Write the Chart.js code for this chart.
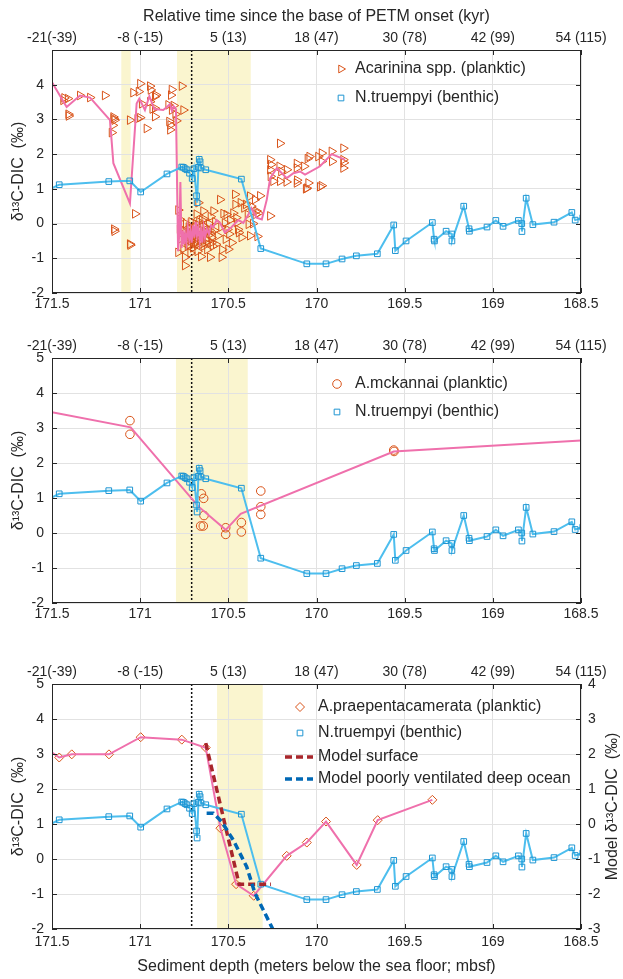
<!DOCTYPE html>
<html><head><meta charset="utf-8">
<script src="https://cdn.jsdelivr.net/npm/chart.js@4.4.0/dist/chart.umd.min.js"></script>
<style>
html,body{margin:0;padding:0;background:#fff;width:623px;height:979px;overflow:hidden;}
.p{position:absolute;left:0;width:623px;}
</style></head><body>
<div class="p" style="top:0;height:318px"><canvas id="c1"></canvas></div>
<div class="p" style="top:318px;height:312px"><canvas id="c2"></canvas></div>
<div class="p" style="top:630px;height:349px"><canvas id="c3"></canvas></div>
<script>
// ---------- axis ticks ----------
const depthTicks = [171.5, 171, 170.5, 170, 169.5, 169, 168.5];
const depthTickLabels = ['171.5','171','170.5','170','169.5','169','168.5'];
const timeTickLabels = ['-21(-39)','-8 (-15)','5 (13)','18 (47)','30 (78)','42 (99)','54 (115)'];

// ---------- N.truempyi (benthic), all panels ----------
const bDepth = [171.55,171.459,171.178,171.059,170.997,170.848,170.764,170.755,170.745,170.735,170.72,170.705,170.695,170.68,170.677,170.67,170.665,170.66,170.655,170.628,170.426,170.316,170.055,169.946,169.855,169.774,169.655,169.562,169.553,169.492,169.343,169.333,169.331,169.265,169.233,169.232,169.165,169.135,169.133,169.033,168.983,168.942,168.855,168.836,168.835,168.811,168.773,168.653,168.552,168.533,168.49];
const bVal   = [0.9,1.12,1.21,1.23,0.91,1.43,1.63,1.62,1.58,1.55,1.45,1.3,1.58,0.8,0.6,1.62,1.85,1.78,1.6,1.55,1.28,-0.72,-1.16,-1.16,-1.02,-0.93,-0.87,-0.04,-0.78,-0.5,0.03,-0.45,-0.5,-0.22,-0.3,-0.5,0.5,-0.15,-0.22,-0.1,0.09,-0.08,0.09,0.0,-0.23,0.73,-0.03,0.04,0.32,0.1,0.17];

// ---------- Panel 1: Acarinina spp. ----------
const acDepth = [171.436,171.43,171.407,171.405,171.41,171.341,171.284,171.2,171.161,171.152,171.145,171.155,171.15,171.148,171.146,171.058,171.058,171.056,171.029,171.039,171.0,171.008,171.0,171.015,170.99,170.963,170.944,170.94,170.944,170.916,170.916,170.916,170.91,170.93,170.84,170.835,170.821,170.764,170.83,170.828,170.825,170.82,170.755,170.81,170.8,170.795,
 170.784,170.774,170.775,170.772,170.784,170.755,170.746,170.746,170.735,170.73,170.725,170.72,170.715,170.71,170.705,170.7,170.695,170.69,170.685,170.68,170.68,170.675,170.67,170.665,170.66,170.655,170.65,170.645,170.642,170.64,170.635,170.63,170.625,170.62,170.61,170.604,170.6,170.595,170.585,170.58,170.575,170.57,170.56,170.547,170.54,170.538,170.535,170.528,170.52,170.515,170.51,170.505,170.5,170.495,170.49,170.48,170.472,170.462,170.46,170.455,170.45,170.445,170.44,170.43,170.425,170.41,170.4,170.39,170.385,170.377,170.377,170.37,170.36,170.349,170.345,170.34,170.335,170.33,170.32,170.263,
 170.75,170.745,170.74,170.73,170.725,170.72,170.712,170.705,170.698,170.69,170.685,170.678,170.672,170.665,170.658,170.65,170.645,170.638,170.63,170.622,170.615,170.605,170.595,170.588,170.6,
 170.263,170.258,170.263,170.26,170.245,170.207,170.21,170.207,170.2,170.168,170.17,170.112,170.112,170.112,170.11,170.07,170.055,170.04,170.046,170.05,170.06,169.99,169.98,169.97,169.97,169.97,169.914,169.912,169.848,169.848,169.848,169.845];
const acVal = [3.55,3.62,3.15,3.1,3.6,3.69,3.63,3.69,2.62,3.07,2.98,2.83,3.02,-0.16,-0.22,2.98,-0.59,-0.62,0.28,3.77,4.03,3.8,3.05,3.02,3.45,2.74,3.96,3.85,3.51,3.66,3.32,3.08,3.7,3.3,3.42,2.94,3.86,3.96,2.7,2.84,3.7,3.27,3.27,3.4,3.15,2.96,
 0.39,0.12,-0.16,-0.45,-0.83,-0.73,-0.97,-1.21,-0.5,-0.3,-0.1,-0.6,-0.85,0.05,-0.4,-0.7,-0.2,-0.55,0.0,0.27,-0.35,-0.8,0.6,-0.15,-0.5,-0.95,0.1,-0.3,0.36,-0.65,0.12,-0.1,-0.45,-0.75,0.0,-0.97,-0.3,-0.55,0.36,-0.2,0.05,-0.6,-0.35,0.69,-0.1,-0.97,-0.75,0.29,0.02,-0.45,0.26,-0.17,-0.74,-0.3,0.1,-0.55,0.3,0.84,0.55,0.17,0.03,-0.17,-0.26,0.6,-0.4,0.45,0.55,0.26,-0.02,0.79,-0.35,0.5,0.0,0.69,0.26,0.36,-0.37,0.3,0.8,0.22,
 -0.2,-0.45,0.0,-0.65,-0.35,-0.15,-0.5,-0.25,-0.6,-0.1,-0.45,-0.6,-0.3,0.05,-0.35,-0.6,-0.05,-0.3,-0.55,-0.25,-0.5,-0.2,-0.4,-0.65,0.2,
 1.84,1.7,1.55,1.36,1.22,2.31,1.65,1.22,1.5,1.55,1.2,1.73,1.6,1.17,1.25,1.65,1.02,1.93,1.17,1.87,1.0,1.93,1.06,2.03,1.79,1.09,2.08,1.79,2.17,1.84,1.6,1.75];
const acLineDepth = [171.5,171.417,171.341,171.284,171.171,171.152,171.058,171.02,171.005,170.973,170.948,170.92,170.869,170.85,170.831,170.82,170.81,170.797,170.785,170.778,170.772,170.765,170.758,170.752,170.745,170.738,170.73,170.722,170.715,170.708,170.7,170.692,170.685,170.678,170.67,170.662,170.655,170.648,170.64,170.632,170.622,170.61,170.598,170.585,170.567,170.547,170.52,170.481,170.443,170.415,170.386,170.37,170.34,170.31,170.282,170.263,170.225,170.169,170.131,170.093,170.065,169.98,169.914,169.838];
const acLineVal = [4.07,3.36,3.69,3.63,2.98,1.74,0.58,3.46,3.6,3.27,3.67,3.3,3.27,3.35,3.44,3.25,3.38,3.3,-0.8,-0.3,1.2,-0.7,-0.2,-0.6,-0.3,-0.55,-0.1,-0.45,-0.2,-0.55,-0.05,-0.4,0.05,-0.35,-0.1,-0.5,-0.2,-0.55,-0.1,-0.4,-0.15,-0.3,-0.05,-0.11,0.1,0.02,-0.26,-0.1,0.1,0.02,0.26,0.45,0.17,0.12,0.69,1.3,1.6,1.31,1.45,1.5,1.41,1.65,2.0,1.84];

// ---------- Panel 2: A.mckannai ----------
const mcDepth = [171.058,171.058,170.653,170.64,170.638,170.657,170.642,170.515,170.515,170.426,170.426,170.316,170.316,170.316,169.562,169.56];
const mcVal   = [3.21,2.82,1.12,0.99,0.5,0.2,0.2,0.15,-0.04,0.3,0.03,1.2,0.75,0.53,2.37,2.33];
const mcLineDepth = [171.5,171.054,170.67,170.515,170.43,169.562,168.5];
const mcLineVal   = [3.45,3.02,0.76,0.09,0.55,2.33,2.64];

// ---------- Panel 3: A.praepentacamerata & model ----------
const apDepth = [171.459,171.388,171.177,170.997,170.764,170.628,170.545,170.456,170.356,170.169,170.055,169.946,169.772,169.653,169.343];
const apVal   = [2.9,2.99,2.99,3.48,3.41,3.18,0.88,-0.72,-1.05,0.09,0.47,1.07,-0.17,1.11,1.69];
const apLineDepth = [171.5].concat(apDepth);
const apLineVal   = [3.04].concat(apVal);
const surfDepth = [170.628,170.439,170.258];
const surfVal   = [2.31,-1.72,-1.72];
const deepDepth = [170.623,170.585,170.538,170.472,170.396,170.349,170.245];
const deepVal   = [0.31,0.31,0.07,-0.46,-1.22,-1.98,-3.03];

// ---------- shaded intervals & onset ----------
const bands1 = [[171.107,171.054],[170.791,170.373]];
const bands2 = [[170.797,170.39]];
const bands3 = [[170.564,170.305]];
const onsetDepth = 170.708;

// =====================================================
const FONT = "'Liberation Sans', Arial, Helvetica, sans-serif";
const C = {bLine:'#4DBEEE', bMark:'#1F95D2', pink:'#EF70AC', orange:'#D95319', grid:'#e2e2e2',
           axis:'#262626', band:'#FAF5CF', surf:'#A8262B', deep:'#0068B5'};
function pts(xs, ys){ return xs.map((x,i)=>({x:x, y:ys[i]})); }
function labelFor(v, vals, labs){ for(let i=0;i<vals.length;i++){ if(Math.abs(v-vals[i])<1e-6) return labs[i]; } return ''; }

function benthic(){
  return {data:pts(bDepth,bVal), showLine:true, borderColor:C.bLine, borderWidth:2,
    pointStyle:'rect', pointRadius:4, pointBorderColor:C.bMark, pointBackgroundColor:'rgba(0,0,0,0)',
    pointBorderWidth:1, order:0};
}
function pinkLine(xs, ys){
  return {data:pts(xs,ys), showLine:true, borderColor:C.pink, borderWidth:2, pointRadius:0, order:1};
}
function markers(xs, ys, style, r, rot){
  return {data:pts(xs,ys), showLine:false, pointStyle:style, pointRadius:r, pointRotation:rot||0,
    pointBorderColor:C.orange, pointBackgroundColor:'rgba(0,0,0,0)', pointBorderWidth:1, order:2};
}

const panelPlugin = {
  id:'panelDeco',
  beforeDraw(chart){
    const o = chart.options.plugins.panelDeco; const a = chart.chartArea; const ctx = chart.ctx;
    const xs = chart.scales.x;
    ctx.save();
    ctx.fillStyle = C.band;
    o.bands.forEach(b=>{
      const x1 = xs.getPixelForValue(b[0]), x2 = xs.getPixelForValue(b[1]);
      ctx.fillRect(Math.min(x1,x2), a.top, Math.abs(x2-x1), a.bottom-a.top);
    });
    ctx.restore();
  },
  beforeDatasetsDraw(chart){
    const o = chart.options.plugins.panelDeco; const a = chart.chartArea; const ctx = chart.ctx;
    const px = chart.scales.x.getPixelForValue(o.onset);
    ctx.save();
    ctx.strokeStyle = '#111'; ctx.lineWidth = 1.5; ctx.setLineDash([2,2]);
    ctx.beginPath(); ctx.moveTo(px, a.top); ctx.lineTo(px, a.bottom); ctx.stroke();
    ctx.restore();
  },
  afterDraw(chart){
    const o = chart.options.plugins.panelDeco; const a = chart.chartArea; const ctx = chart.ctx;
    ctx.save();
    ctx.strokeStyle = C.axis; ctx.lineWidth = 1;
    ctx.strokeRect(a.left+0.5, a.top+0.5, a.right-a.left-1, a.bottom-a.top-1);
    const ys = chart.scales.y, xs = chart.scales.x;
    ctx.beginPath();
    for(let v=-2; v<=5; v++){
      const py = Math.round(ys.getPixelForValue(v))+0.5;
      ctx.moveTo(a.left, py); ctx.lineTo(a.left+5, py);
      ctx.moveTo(a.right-5, py); ctx.lineTo(a.right, py);
    }
    depthTicks.forEach(v=>{
      const px = Math.round(xs.getPixelForValue(v))+0.5;
      ctx.moveTo(px, a.bottom); ctx.lineTo(px, a.bottom-5);
      ctx.moveTo(px, a.top); ctx.lineTo(px, a.top+5);
    });
    ctx.stroke();
    // right-hand axis title (reads bottom to top)
    if (o.rightTitle){
      ctx.save();
      ctx.font = '16px ' + FONT; ctx.fillStyle = C.axis; ctx.textAlign = 'center'; ctx.textBaseline = 'middle';
      ctx.translate(613, (a.top + a.bottom)/2);
      ctx.rotate(-Math.PI/2);
      ctx.fillText(o.rightTitle, 0, 0);
      ctx.restore();
    }
    // legend
    const L = o.legend;
    ctx.font = '16px ' + FONT; ctx.textBaseline = 'middle'; ctx.textAlign = 'left'; ctx.fillStyle = C.axis;
    L.items.forEach((it, i)=>{
      const y = L.y[i];
      if (it.kind === 'dash'){
        ctx.save(); ctx.strokeStyle = it.color; ctx.lineWidth = 3.5; ctx.setLineDash([7,4]);
        ctx.beginPath(); ctx.moveTo(L.lineX0, y); ctx.lineTo(L.lineX1, y); ctx.stroke(); ctx.restore();
      } else {
        ctx.save(); ctx.strokeStyle = it.color; ctx.fillStyle = 'rgba(0,0,0,0)'; ctx.lineWidth = 1;
        Chart.helpers.drawPoint(ctx, {pointStyle:it.style, radius:it.r, rotation:it.rot||0, borderWidth:1}, L.markX, y);
        ctx.restore();
      }
      ctx.fillStyle = C.axis;
      ctx.fillText(it.label, L.textX, y);
    });
    ctx.restore();
  }
};

function buildPanel(id, o){
  const tickFont = {family:FONT, size:14};
  const scales = {
    x: {type:'linear', position:'bottom', min:168.5, max:171.5, reverse:true,
      afterBuildTicks: s=>{ s.ticks = depthTicks.map(v=>({value:v})); },
      afterFit: s=>{ s.height = o.bottomH; },
      grid:{color:C.grid, drawTicks:false, lineWidth:1}, border:{display:false},
      ticks:{font:tickFont, color:C.axis, padding:o.xPad, maxRotation:0, autoSkip:false,
        callback:(v)=>labelFor(v, depthTicks, depthTickLabels)},
      title: o.bottomTitle ? {display:true, text:o.bottomTitle, font:{family:FONT,size:16}, color:C.axis, padding:{top:0,bottom:3}} : {display:false}
    },
    x2: {type:'linear', position:'top', min:168.5, max:171.5, reverse:true,
      afterBuildTicks: s=>{ s.ticks = depthTicks.map(v=>({value:v})); },
      afterFit: s=>{ s.height = o.topH; },
      grid:{display:false, drawTicks:false}, border:{display:false},
      ticks:{font:tickFont, color:C.axis, padding:3, maxRotation:0, autoSkip:false,
        callback:(v)=>labelFor(v, depthTicks, timeTickLabels)},
      title: o.topTitle ? {display:true, text:o.topTitle, font:{family:FONT,size:16}, color:C.axis, padding:{top:7,bottom:0}} : {display:false}
    },
    y: {type:'linear', position:'left', min:-2, max:5,
      afterFit: s=>{ s.width = 52; },
      grid:{color:C.grid, drawTicks:false, lineWidth:1}, border:{display:false},
      ticks:{font:tickFont, color:C.axis, padding:8, stepSize:1,
        callback:(v)=> (o.hideTop && v===5) ? '' : String(v)},
      title:{display:true, text:'δ¹³C-DIC  (‰)', font:{family:FONT,size:16}, color:C.axis, padding:{top:9,bottom:0}}
    }
  };
  if (o.right){
    scales.y2 = {type:'linear', position:'right', min:-3, max:4,
      afterFit: s=>{ s.width = 42; },
      grid:{display:false, drawTicks:false}, border:{display:false},
      ticks:{font:tickFont, color:C.axis, padding:7, stepSize:1, callback:(v)=>String(v)},
      title:{display:false}
    };
  }
  return new Chart(document.getElementById(id), {
    type:'scatter',
    data:{datasets:o.datasets},
    options:{
      responsive:true, maintainAspectRatio:false, animation:false, events:[],
      layout:{padding:{left:0, right:o.right?0:42, top:0, bottom:0}},
      scales:scales,
      plugins:{legend:{display:false}, tooltip:{enabled:false},
        panelDeco:{bands:o.bands, onset:onsetDepth, legend:o.legend, rightTitle:o.rightTitle}}
    },
    plugins:[panelPlugin]
  });
}

buildPanel('c1', {
  topH:50, bottomH:25, xPad:3, hideTop:true,
  topTitle:'Relative time since the base of PETM onset (kyr)',
  bands:bands1,
  datasets:[benthic(), pinkLine(acLineDepth, acLineVal), markers(acDepth, acVal, 'triangle', 5, 90)],
  legend:{markX:341, textX:355, y:[69,98], items:[
    {label:'Acarinina spp. (planktic)', style:'triangle', r:4.5, rot:90, color:C.orange},
    {label:'N.truempyi (benthic)', style:'rect', r:4, color:C.bMark}]}
});

buildPanel('c2', {
  topH:40, bottomH:27, xPad:3, hideTop:false,
  bands:bands2,
  datasets:[benthic(), pinkLine(mcLineDepth, mcLineVal), markers(mcDepth, mcVal, 'circle', 4.3, 0)],
  legend:{markX:337, textX:355, y:[66,94], items:[
    {label:'A.mckannai (planktic)', style:'circle', r:4.3, color:C.orange},
    {label:'N.truempyi (benthic)', style:'rect', r:4, color:C.bMark}]}
});

const surfDs = {data:pts(surfDepth,surfVal), yAxisID:'y2', showLine:true, borderColor:C.surf, borderWidth:3.5, borderDash:[7,4], pointRadius:0, order:-1};
const deepDs = {data:pts(deepDepth,deepVal), yAxisID:'y2', showLine:true, borderColor:C.deep, borderWidth:3.5, borderDash:[7,4], pointRadius:0, order:-2};
buildPanel('c3', {
  topH:54, bottomH:50, xPad:5, hideTop:false, right:true,
  rightTitle:'Model δ¹³C-DIC  (‰)',
  bottomTitle:'Sediment depth (meters below the sea floor; mbsf)',
  bands:bands3,
  datasets:[benthic(), pinkLine(apLineDepth, apLineVal), markers(apDepth, apVal, 'rectRot', 4.5, 0), surfDs, deepDs],
  legend:{markX:300, textX:318, lineX0:285, lineX1:313, y:[77,103,127,149], items:[
    {label:'A.praepentacamerata (planktic)', style:'rectRot', r:4.5, color:C.orange},
    {label:'N.truempyi (benthic)', style:'rect', r:4, color:C.bMark},
    {label:'Model surface', kind:'dash', color:C.surf},
    {label:'Model poorly ventilated deep ocean', kind:'dash', color:C.deep}]}
});
</script>
</body></html>
